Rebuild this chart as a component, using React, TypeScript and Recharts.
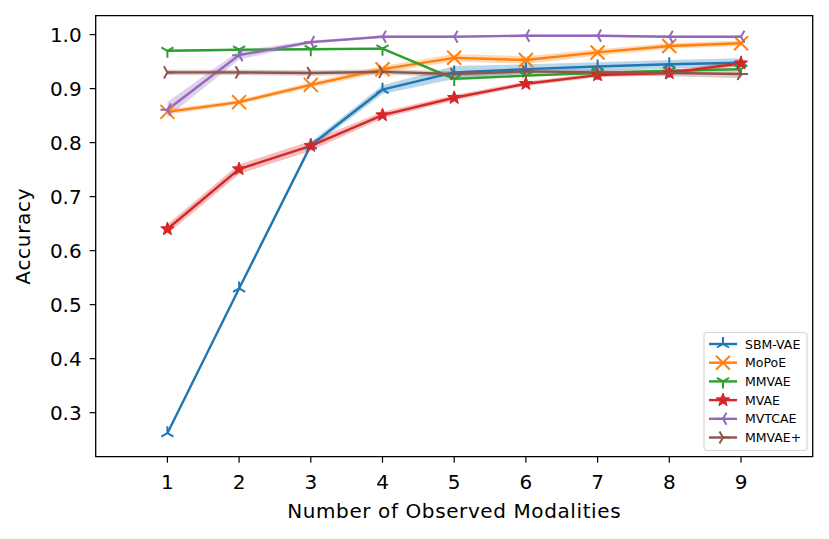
import React from "react";
import {
  ComposedChart,
  Line,
  Area,
  XAxis,
  YAxis,
  ReferenceArea,
} from "recharts";

const modalities = [1, 2, 3, 4, 5, 6, 7, 8, 9];

const sbmVae = [0.262, 0.53, 0.795, 0.898, 0.93, 0.936, 0.941, 0.945, 0.948];
const sbmVaeSpread = [0.002, 0.003, 0.006, 0.008, 0.012, 0.009, 0.008, 0.008, 0.008];
const moPoE = [0.857, 0.875, 0.907, 0.936, 0.957, 0.953, 0.967, 0.979, 0.984];
const moPoESpread = [0.005, 0.004, 0.005, 0.006, 0.007, 0.007, 0.006, 0.005, 0.005];
const mmVae = [0.97, 0.972, 0.973, 0.974, 0.918, 0.924, 0.929, 0.933, 0.936];
const mmVaeSpread = [0.002, 0.002, 0.002, 0.002, 0.003, 0.002, 0.002, 0.002, 0.002];
const mVae = [0.64, 0.751, 0.794, 0.851, 0.883, 0.909, 0.925, 0.929, 0.947];
const mVaeSpread = [0.009, 0.009, 0.009, 0.006, 0.005, 0.004, 0.004, 0.004, 0.005];
const mvtcae = [0.861, 0.962, 0.986, 0.996, 0.996, 0.998, 0.998, 0.996, 0.996];
const mvtcaeSpread = [0.014, 0.008, 0.003, 0.002, 0.002, 0.002, 0.002, 0.002, 0.002];
const mmVaePlus = [0.93, 0.93, 0.929, 0.931, 0.927, 0.932, 0.93, 0.929, 0.927];
const mmVaePlusSpread = [0.005, 0.005, 0.005, 0.005, 0.005, 0.005, 0.005, 0.006, 0.008];

const yTicks = [0.3, 0.4, 0.5, 0.6, 0.7, 0.8, 0.9, 1.0];

type MarkerKind = "tri_up" | "x" | "tri_down" | "star" | "tri_left" | "tri_right";

const series: {
  key: string;
  name: string;
  values: number[];
  spread: number[];
  color: string;
  marker: MarkerKind;
}[] = [
  { key: "sbm", name: "SBM-VAE", values: sbmVae, spread: sbmVaeSpread, color: "#1f77b4", marker: "tri_up" },
  { key: "mopoe", name: "MoPoE", values: moPoE, spread: moPoESpread, color: "#ff7f0e", marker: "x" },
  { key: "mmvae", name: "MMVAE", values: mmVae, spread: mmVaeSpread, color: "#2ca02c", marker: "tri_down" },
  { key: "mvae", name: "MVAE", values: mVae, spread: mVaeSpread, color: "#d62728", marker: "star" },
  { key: "mvtcae", name: "MVTCAE", values: mvtcae, spread: mvtcaeSpread, color: "#9467bd", marker: "tri_left" },
  { key: "mmvaeplus", name: "MMVAE+", values: mmVaePlus, spread: mmVaePlusSpread, color: "#8c564b", marker: "tri_right" },
];

const data = modalities.map((m, i) => {
  const row: Record<string, any> = { x: m };
  series.forEach((s) => {
    row[s.key] = s.values[i];
    row[s.key + "Band"] = [s.values[i] - s.spread[i], s.values[i] + s.spread[i]];
  });
  return row;
});

const Y_MIN = 0.2185;
const Y_MAX = 1.035;
const FONT = "DejaVu Sans, sans-serif";

function Marker({ kind, cx, cy, color, r = 7 }: { kind: MarkerKind; cx: number; cy: number; color: string; r?: number }) {
  const sw = 2;
  const tri = (pts: [number, number][]) => (
    <g stroke={color} strokeWidth={sw} fill="none">
      {pts.map(([dx, dy], i) => (
        <line key={i} x1={cx} y1={cy} x2={cx + dx * r} y2={cy + dy * r} />
      ))}
    </g>
  );
  switch (kind) {
    case "tri_up":
      return tri([[0, -1], [-0.866, 0.5], [0.866, 0.5]]);
    case "tri_down":
      return tri([[0, 1], [-0.866, -0.5], [0.866, -0.5]]);
    case "tri_left":
      return tri([[-1, 0], [0.5, -0.866], [0.5, 0.866]]);
    case "tri_right":
      return tri([[1, 0], [-0.5, -0.866], [-0.5, 0.866]]);
    case "x":
      return (
        <g stroke={color} strokeWidth={sw} fill="none">
          <line x1={cx - r} y1={cy - r} x2={cx + r} y2={cy + r} />
          <line x1={cx - r} y1={cy + r} x2={cx + r} y2={cy - r} />
        </g>
      );
    case "star": {
      const pts: string[] = [];
      for (let k = 0; k < 10; k++) {
        const rad = k % 2 === 0 ? r : r * 0.42;
        const a = (-90 + k * 36) * (Math.PI / 180);
        pts.push(`${cx + rad * Math.cos(a)},${cy + rad * Math.sin(a)}`);
      }
      return <polygon points={pts.join(" ")} fill={color} stroke={color} strokeWidth={1} />;
    }
  }
  return null;
}

const LegendBox = () => (
  <svg
    width={106}
    height={121}
    style={{ position: "absolute", left: 703, top: 331 }}
  >
    <rect x={1} y={1.5} width={103} height={118} rx={3} fill="#fff" fillOpacity={0.8} stroke="#d6d6d6" strokeWidth={1.2} />
    {series.map((s, i) => {
      const y = 13 + i * 18.7;
      return (
        <g key={s.key}>
          <line x1={6} y1={y} x2={34} y2={y} stroke={s.color} strokeWidth={2.4} />
          <Marker kind={s.marker} cx={20} cy={y} color={s.color} />
          <text x={42} y={y + 4.5} fontSize={12.5} fontFamily={FONT} fill="#000">
            {s.name}
          </text>
        </g>
      );
    })}
  </svg>
);

export default function App() {
  return (
    <div style={{ position: "absolute", left: 0, top: 0, width: 829, height: 539, background: "#fff" }}>
      <ComposedChart
        width={829}
        height={539}
        data={data}
        margin={{ top: 15.7, right: 16.3, left: 35.7, bottom: 22.3 }}
        style={{ fontFamily: FONT }}
      >
        <XAxis
          dataKey="x"
          type="number"
          domain={[0, 10]}
          ticks={modalities}
          height={60}
          tickSize={6}
          tickMargin={12}
          axisLine={false}
          tickLine={{ stroke: "#000", strokeWidth: 1.2 }}
          tick={{ fill: "#000", fontSize: 20, fontFamily: FONT }}
          label={(props: any) => {
            const vb = props.viewBox;
            return (
              <text
                x={vb.x + vb.width / 2}
                y={vb.y + 61}
                textAnchor="middle"
                fontSize={20}
                letterSpacing={0.6}
                fontFamily={FONT}
                fill="#000"
              >
                Number of Observed Modalities
              </text>
            );
          }}
        />
        <YAxis
          type="number"
          domain={[Y_MIN, Y_MAX]}
          ticks={yTicks}
          width={60}
          tickSize={6}
          tickMargin={8}
          axisLine={false}
          allowDataOverflow
          tickFormatter={(v: number) => v.toFixed(1)}
          tickLine={{ stroke: "#000", strokeWidth: 1.2 }}
          tick={{ fill: "#000", fontSize: 20, fontFamily: FONT }}
          label={(props: any) => {
            const vb = props.viewBox;
            const cy = vb.y + vb.height / 2;
            return (
              <text
                x={30}
                y={cy}
                textAnchor="middle"
                transform={`rotate(-90, 30, ${cy})`}
                fontSize={20}
                letterSpacing={0.7}
                fontFamily={FONT}
                fill="#000"
              >
                Accuracy
              </text>
            );
          }}
        />
        {series.map((s) => (
          <Area
            key={s.key + "Band"}
            dataKey={s.key + "Band"}
            type="linear"
            stroke="none"
            fill={s.color}
            fillOpacity={0.3}
            isAnimationActive={false}
            activeDot={false}
            legendType="none"
          />
        ))}
        {series.map((s) => (
          <Line
            key={s.key}
            dataKey={s.key}
            name={s.name}
            type="linear"
            stroke={s.color}
            strokeWidth={2.4}
            isAnimationActive={false}
            activeDot={false}
            dot={(p: any) => (
              <Marker key={s.key + p.index} kind={s.marker} cx={p.cx} cy={p.cy} color={s.color} />
            )}
          />
        ))}
        <ReferenceArea
          x1={0}
          x2={10}
          y1={Y_MIN}
          y2={Y_MAX}
          fill="none"
          stroke="#000"
          strokeWidth={1.3}
          ifOverflow="visible"
        />
      </ComposedChart>
      <LegendBox />
    </div>
  );
}
